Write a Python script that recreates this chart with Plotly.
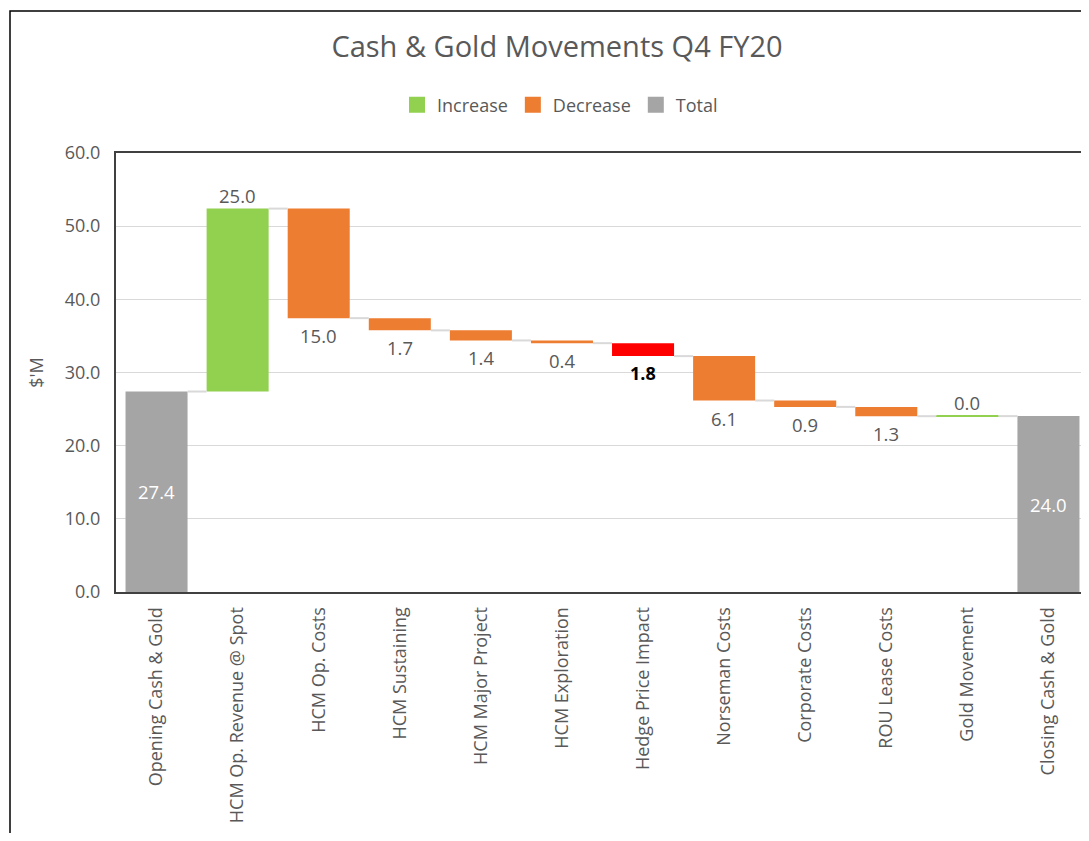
import plotly.graph_objects as go

categories = ["Opening Cash & Gold", "HCM Op. Revenue @ Spot", "HCM Op. Costs",
              "HCM Sustaining", "HCM Major Project", "HCM Exploration",
              "Hedge Price Impact", "Norseman Costs", "Corporate Costs",
              "ROU Lease Costs", "Gold Movement", "Closing Cash & Gold"]
# signed movements ($'M); opening total first, closing total is the running sum
opening = 27.4
movements = [25.00, -14.97, -1.67, -1.38, -0.37, -1.77, -6.07, -0.87, -1.27, 0.01]
red_item = "Hedge Price Impact"

C_INC = "#92D050"
C_DEC = "#ED7D31"
C_TOT = "#A5A5A5"
C_RED = "#FF0000"
TXT = "#595959"
FONT = "Open Sans"
BW = 0.765

# running levels
levels = [opening]
for m in movements:
    levels.append(levels[-1] + m)
closing = levels[-1]

idx = list(range(len(categories)))
fig = go.Figure()

tot_x = [0, len(categories) - 1]
tot_v = [opening, closing]
fig.add_trace(go.Bar(x=tot_x, y=tot_v, base=[0, 0], width=BW, marker_color=C_TOT,
                     marker_line_width=0, showlegend=False, hoverinfo="skip"))

inc_x, inc_b, inc_h = [], [], []
dec_x, dec_b, dec_h = [], [], []
red_x, red_b, red_h = [], [], []
for i, m in enumerate(movements):
    xi = i + 1
    lo = min(levels[i], levels[i + 1])
    h = abs(m)
    if categories[xi] == red_item:
        red_x.append(xi); red_b.append(lo); red_h.append(h)
    elif m >= 0:
        inc_x.append(xi); inc_b.append(lo); inc_h.append(h)
    else:
        dec_x.append(xi); dec_b.append(lo); dec_h.append(h)

for xs, bs, hs, col in [(inc_x, inc_b, inc_h, C_INC), (dec_x, dec_b, dec_h, C_DEC),
                        (red_x, red_b, red_h, C_RED)]:
    fig.add_trace(go.Bar(x=xs, y=hs, base=bs, width=BW, marker_color=col,
                         marker_line_width=0, showlegend=False, hoverinfo="skip"))

# connectors
cx, cy = [], []
for i in range(len(categories) - 1):
    lvl = levels[i]
    cx += [i + BW / 2, i + 1 - BW / 2, None]
    cy += [lvl, lvl, None]
fig.add_trace(go.Scatter(x=cx, y=cy, mode="lines", line=dict(color="#D9D9D9", width=2),
                         showlegend=False, hoverinfo="skip"))
# thin green line for near-zero increases
for xi, b, h in zip(inc_x, inc_b, inc_h):
    if h < 0.1:
        fig.add_trace(go.Scatter(x=[xi - BW / 2, xi + BW / 2], y=[b + h, b + h], mode="lines",
                                 line=dict(color=C_INC, width=2), showlegend=False,
                                 hoverinfo="skip"))

# legend entries
for name, col in [("Increase", C_INC), ("Decrease", C_DEC), ("Total", C_TOT)]:
    fig.add_trace(go.Scatter(x=[None], y=[None], mode="markers", name=name,
                             marker=dict(symbol="square", size=16, color=col)))

# data labels
LS = 18.5
for x, v in zip(tot_x, tot_v):
    fig.add_annotation(x=x, y=v / 2, text=f"{v:.1f}", showarrow=False,
                       font=dict(family=FONT, size=LS, color="white"))
for x, b, h in zip(inc_x, inc_b, inc_h):
    fig.add_annotation(x=x, y=b + h, text=f"{h:.1f}", showarrow=False, yanchor="bottom",
                       yshift=-1, font=dict(family=FONT, size=LS, color=TXT))
for x, b, h in zip(dec_x, dec_b, dec_h):
    fig.add_annotation(x=x, y=b, text=f"{h:.1f}", showarrow=False, yanchor="top",
                       yshift=-3, font=dict(family=FONT, size=LS, color=TXT))
for x, b, h in zip(red_x, red_b, red_h):
    fig.add_annotation(x=x, y=b, text=f"<b>{h:.1f}</b>", showarrow=False, yanchor="top",
                       yshift=-3, font=dict(family=FONT, size=LS - 0.5, color="black"))

# page has an 8px body margin: figure coords = page coords - 8
OFF = 8
W, H = 1089 - OFF, 841 - 2 * OFF
L, R, T = 116 - OFF, 0, 153 - OFF
B = H - (592 - OFF)
ph = H - T - B
pw = W - L - R

fig.update_layout(
    width=W, height=H,
    margin=dict(l=L, r=R, t=T, b=B, autoexpand=False),
    paper_bgcolor="white", plot_bgcolor="white",
    font=dict(family=FONT, color=TXT, size=17),
    title=dict(text="Cash & Gold Movements Q4 FY20", x=(557 - OFF) / W, xref="container",
               xanchor="center", y=1 - (47 - OFF) / H, yref="container", yanchor="middle",
               font=dict(family=FONT, size=29, color=TXT)),
    legend=dict(orientation="h", x=(560 - OFF) / W, xref="container", xanchor="center",
                y=1 - (105 - OFF) / H, yref="container", yanchor="middle",
                font=dict(family=FONT, size=18, color=TXT), itemwidth=30,
                traceorder="normal"),
    barmode="overlay",
    showlegend=True,
)
fig.update_xaxes(range=[-0.5, len(categories) - 0.5], tickvals=idx, ticktext=categories,
                 tickangle=-90, showgrid=False, showline=True, linecolor="#404040",
                 linewidth=2, mirror=True, ticks="", zeroline=False, ticklabelstandoff=6,
                 tickfont=dict(family=FONT, size=18, color=TXT))
fig.update_yaxes(range=[0, 60], dtick=10, tickformat=".1f", showgrid=True,
                 gridcolor="#D9D9D9", gridwidth=1, showline=True, linecolor="#404040",
                 linewidth=2, zeroline=False, ticks="", ticklabelstandoff=10,
                 tickfont=dict(family=FONT, size=18, color=TXT),
                 title=dict(text="$'M", standoff=16, font=dict(family=FONT, size=18, color=TXT)))

# outer chart border (extends past the right and bottom edges)
fig.add_shape(type="rect", xref="paper", yref="paper",
              x0=(10 - 116) / pw, x1=1.2, y0=-2, y1=(592 - 11) / ph,
              line=dict(color="black", width=1.5), fillcolor="rgba(0,0,0,0)", layer="below")

fig.write_html("out.html")
